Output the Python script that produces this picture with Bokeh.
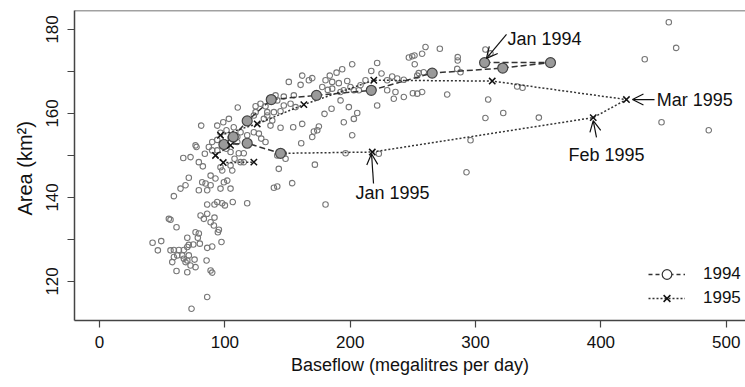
from bokeh.plotting import figure
from bokeh.models import Range1d, FixedTicker, Arrow, OpenHead, Label, Legend, LegendItem, Span
from bokeh.embed import file_html
from bokeh.resources import INLINE

# ---- background observations (baseflow ML/day, area km2) ----
obs_low = [(55.3,134.9),(56.6,134.7),(61.4,132.9),(76.6,131.7),(79.2,131.4),(78.4,130.4),(70.0,130.4),(85.9,136.1),
           (80.6,135.7),(83.2,134.9),(88.6,134.1),(91.2,133.3),(91.7,135.2),(95.2,132.3),(94.4,131.7),(97.3,129.4),
           (85.9,138.3),(91.7,138.3),(93.9,138.9),(97.9,138.6),(100.0,138.1),(106.3,138.9),(117.8,138.6),(42.3,129.2),
           (49.2,129.6),(46.5,127.4),(56.6,127.4),(59.3,127.5),(63.3,127.5),(67.3,127.5),(70.0,128.2),(71.2,128.7),
           (74.8,128.8),(80.0,129.0),(85.9,128.0),(89.9,128.3),(59.3,125.8),(62.0,126.2),(66.0,126.2),(67.3,125.4),
           (68.6,124.6),(70.0,125.0),(58.0,124.6),(72.6,123.8),(76.6,123.4),(85.4,125.0),(61.4,122.5),(70.0,122.2),
           (88.6,122.6),(89.9,122.1),(85.9,116.3),(73.4,113.5),(75.8,125.2),(71.2,126.2)]
obs_mid = [(81.1,157.1),(93.9,157.1),(98.7,157.9),(103.2,158.7),(110.3,161.4),(124.5,161.7),(128.4,162.3),(76.6,152.4),
           (77.4,152.0),(84.0,150.4),(66.8,149.4),(72.6,149.6),(79.2,148.4),(82.4,147.4),(96.5,155.4),(101.3,156.0),
           (107.1,156.7),(112.5,155.5),(117.8,154.8),(123.1,155.5),(127.1,155.2),(129.0,154.0),(132.4,153.2),(104.5,154.2),
           (109.9,153.2),(93.9,153.7),(89.9,153.2),(87.2,152.0),(89.9,151.2),(93.9,151.2),(101.3,151.6),(104.5,150.8),
           (111.1,150.5),(115.1,150.5),(107.7,149.2),(112.5,148.4),(115.1,148.4),(96.5,147.2),(97.9,146.4),(104.5,147.6),
           (105.9,146.4),(88.6,145.2),(92.5,144.5),(81.9,143.6),(84.6,143.3),(88.6,142.9),(99.2,143.6),(101.9,144.0),
           (71.2,144.7),(68.6,142.9),(64.6,142.1),(79.2,141.7),(85.9,141.7),(96.5,142.1),(104.5,142.1),(59.3,140.3),
           (109.9,154.4),(132.4,161.7)]
obs_high = [(151.0,167.5),(160.4,166.8),(161.7,169.0),(167.0,167.9),(169.7,168.4),(180.3,167.9),(183.7,169.0),(189.1,169.7),
            (193.6,170.5),(201.6,171.7),(185.6,167.5),(190.9,167.2),(197.6,167.7),(200.2,166.3),(208.2,166.7),(212.2,167.9),
            (221.5,172.0),(229.5,167.9),(237.5,168.3),(242.8,168.0),(246.8,173.3),(249.5,173.6),(251.5,171.7),(253.5,169.0),
            (236.1,165.1),(242.8,163.9),(234.8,163.5),(250.0,164.8),(253.5,164.7),(192.3,165.1),(194.9,165.5),(202.9,165.5),
            (206.9,165.5),(192.3,163.1),(185.1,161.1),(179.5,159.9),(198.9,161.5),(205.6,160.1),(202.9,158.7),(221.5,161.9),
            (194.9,157.9),(175.0,156.9),(173.7,156.0),(169.7,154.4),(161.7,157.5),(154.5,156.7),(144.4,156.6),(201.6,154.8),
            (160.9,152.9),(144.4,160.5),(147.0,161.9),(152.4,162.3),(156.4,161.5),(155.0,164.3),(147.0,164.0),(140.4,164.3),
            (133.8,160.3),(139.1,160.3),(133.8,159.5),(131.1,158.7),(137.8,158.3),(136.4,157.1),(123.1,159.5),(124.5,160.3),
            (233.5,168.8),(177.7,166.3),(182.1,165.6),(185.6,165.9),(216.8,170.1),(225.0,169.5),(229.5,165.5),(141.8,163.1)]
obs_spread = [(171.0,155.7),(141.8,150.0),(147.0,150.4),(148.4,149.2),(196.3,150.5),(222.8,150.4),(143.0,146.8),(171.8,147.8),
              (139.1,142.3),(141.8,142.6),(153.7,143.4),(180.3,138.3)]
obs_right = [(251.3,173.8),(257.4,174.2),(260.1,175.8),(271.5,175.4),(285.8,173.4),(285.8,172.6),(285.4,170.6),(288.0,169.8),
             (258.7,169.8),(254.7,169.6),(257.4,165.1),(277.4,164.5),(307.9,175.2),(311.9,174.3),(333.2,166.4),(337.5,166.1),
             (310.1,163.3),(307.9,158.9),(322.1,160.1),(350.5,159.0),(296.0,153.6),(292.8,146.0),(454.2,181.7),(460.1,175.6),
             (435.0,172.9),(448.4,157.9),(486.1,156.0)]

# ---- monthly means, Jan..Dec ----
flow_1994 = [307.2, 359.8, 321.7, 265.4, 216.8, 173.1, 137.0, 117.8, 106.7, 99.2, 117.8, 144.4]
area_1994 = [172.1, 172.1, 170.8, 169.6, 165.5, 164.3, 163.3, 158.2, 154.4, 152.6, 152.9, 150.5]
flow_1995 = [217.6, 393.9, 420.4, 313.3, 218.8, 163.0, 125.8, 96.5, 104.5, 92.5, 98.7, 123.1]
area_1995 = [150.8, 159.0, 163.3, 167.7, 167.9, 162.1, 157.5, 154.8, 152.4, 150.0, 148.3, 148.4]

x_ticks = [0, 100, 200, 300, 400, 500]
y_ticks = [120, 130, 140, 150, 160, 170, 180]
y_tick_labels = {120: "120", 130: "", 140: "140", 150: "", 160: "160", 170: "", 180: "180"}

FONT = "Liberation Sans"
X0, X1 = -20.0, 515.4
Y0, Y1 = 110.7, 184.5

p = figure(width=745, height=387, output_backend="svg", toolbar_location=None,
           x_range=Range1d(X0, X1), y_range=Range1d(Y0, Y1),
           min_border_left=74, min_border_right=0, min_border_top=10, min_border_bottom=67)
p.grid.visible = False
p.outline_line_color = None
p.background_fill_color = "white"

all_obs = obs_low + obs_mid + obs_high + obs_spread + obs_right
p.scatter([a for a, b in all_obs], [b for a, b in all_obs], marker="circle", size=5.5,
          fill_color=None, line_color="#777777", line_width=1.1)

p.line(flow_1994, area_1994, line_color="#333333", line_width=1.5, line_dash="6 3")
p.line([flow_1994[-1]] + flow_1995, [area_1994[-1]] + area_1995, line_color="#333333",
       line_width=1.5, line_dash="2 2")
p.scatter(flow_1994, area_1994, marker="circle", size=10, fill_color="#9a9a9a",
          line_color="#444444", line_width=1.2)
p.scatter(flow_1995, area_1995, marker="x", size=9, line_color="#111111", line_width=1.5)

# frame top border
p.add_layout(Span(location=Y1, dimension="width", line_color="#444444", line_width=1.5))

for ax in (p.xaxis[0], p.yaxis[0]):
    ax.axis_line_color = "#444444"
    ax.axis_line_width = 1.5
    ax.major_tick_line_color = "#444444"
    ax.major_tick_line_width = 1.2
    ax.major_tick_out = 7
    ax.major_tick_in = 0
    ax.minor_tick_line_color = None
    ax.major_label_text_font = FONT
    ax.major_label_text_color = "#111111"
    ax.axis_label_text_font = FONT
    ax.axis_label_text_font_style = "normal"
    ax.axis_label_text_color = "#111111"

p.xaxis.ticker = FixedTicker(ticks=x_ticks)
p.xaxis.axis_label = "Baseflow (megalitres per day)"
p.xaxis.major_label_text_font_size = "17px"
p.xaxis.axis_label_text_font_size = "18px"
p.xaxis.major_label_standoff = 8
p.xaxis.axis_label_standoff = 4

p.yaxis.ticker = FixedTicker(ticks=y_ticks)
p.yaxis.major_label_overrides = y_tick_labels
p.yaxis.major_label_orientation = "vertical"
p.yaxis.major_label_text_font_size = "17px"
p.yaxis.axis_label = "Area  (km²)"
p.yaxis.axis_label_text_font_size = "20px"
p.yaxis.major_label_standoff = 9
p.yaxis.axis_label_standoff = 8

# annotations: (text, text x, text y, align, arrow start, arrow end)
notes = [
    ("Jan 1994", 325.5, 177.6, "left", (324.7, 178.8), (308.7, 173.1)),
    ("Mar 1995", 444.6, 163.3, "left", (442.8, 163.3), (425.2, 163.3)),
    ("Feb 1995", 404.5, 150.0, "center", (396.5, 154.3), (393.9, 158.3)),
    ("Jan 1995", 233.7, 141.0, "center", (218.6, 143.3), (217.0, 150.4)),
]
for txt, tx, ty, al, (xs, ys), (xe, ye) in notes:
    p.add_layout(Arrow(end=OpenHead(size=11, line_width=1.2, line_color="#111111"),
                       x_start=xs, y_start=ys, x_end=xe, y_end=ye,
                       line_color="#111111", line_width=1.2))
    p.add_layout(Label(x=tx, y=ty, text=txt, text_align=al, text_baseline="middle",
                       text_font=FONT, text_font_size="18px", text_color="#111111"))

# legend-only renderers (a single off-range point each, so the legend has values to draw)
nan = float("nan")
leg94_l = p.line([nan], [nan], line_color="#333333", line_width=1.5, line_dash="4 3")
leg94_m = p.scatter([nan], [nan], marker="circle", size=8, fill_color="white", line_color="#333333", line_width=1.2)
leg95_l = p.line([nan], [nan], line_color="#333333", line_width=1.5, line_dash="2 2")
leg95_m = p.scatter([nan], [nan], marker="x", size=8, line_color="#111111", line_width=1.5)
legend = Legend(items=[LegendItem(label="1994", renderers=[leg94_l, leg94_m]),
                       LegendItem(label="1995", renderers=[leg95_l, leg95_m])],
                location=(574, 10), padding=0, margin=0, spacing=0,
                glyph_width=37, glyph_height=24, label_height=24, label_standoff=18,
                label_text_font=FONT, label_text_font_size="17px", label_text_color="#111111",
                border_line_color=None, background_fill_alpha=0)
p.add_layout(legend)

open("out.html", "w").write(file_html(p, INLINE))
